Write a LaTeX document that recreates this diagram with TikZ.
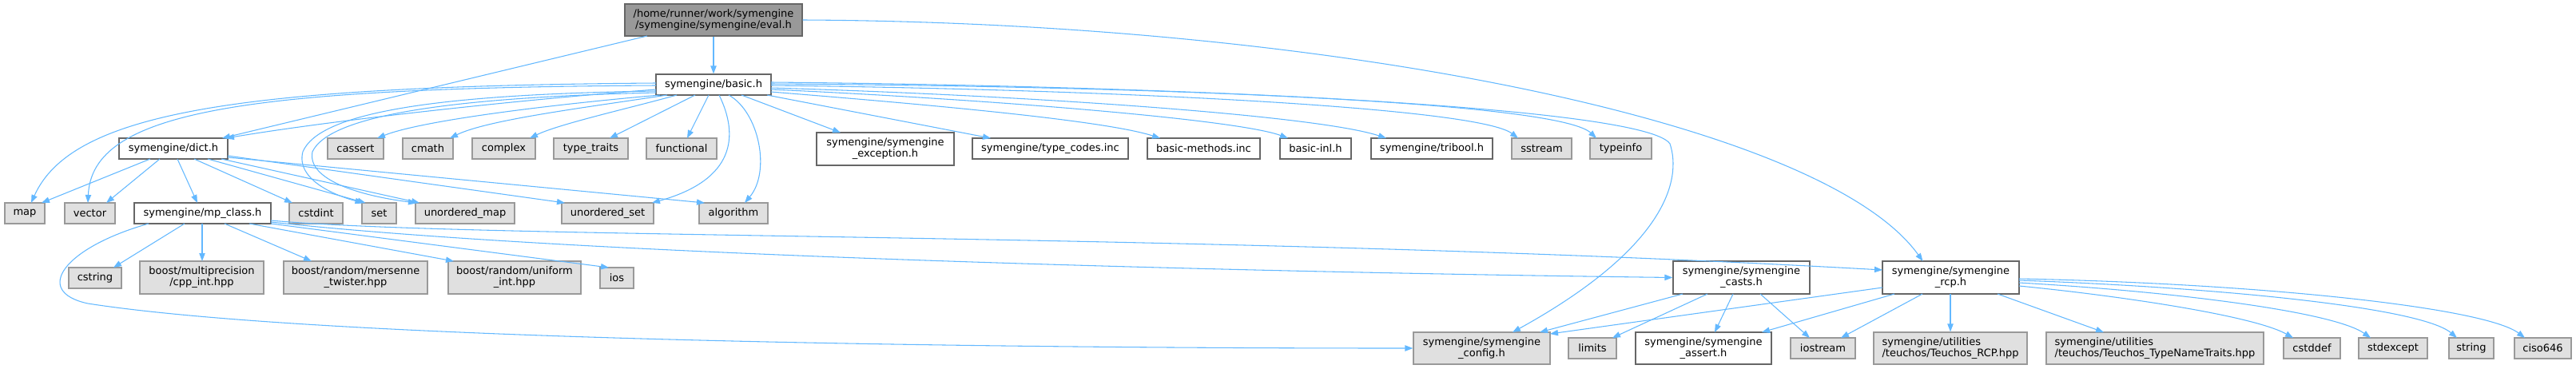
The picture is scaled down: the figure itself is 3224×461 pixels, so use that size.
\documentclass[tikz,border=0pt]{standalone}
\usepackage{fontspec}
\setmainfont{DejaVu Sans}
\usetikzlibrary{arrows.meta,calc}
\definecolor{edgec}{HTML}{63B8FF}
\definecolor{gfill}{HTML}{E0E0E0}
\definecolor{gline}{HTML}{999999}
\definecolor{wline}{HTML}{666666}
\definecolor{efill}{HTML}{999999}
\begin{document}
\begin{tikzpicture}[x=0.75pt,y=-0.75pt,
  base/.style={draw, rectangle, inner sep=0pt, text=black, line width=0.9pt,
    font=\fontsize{9.75pt}{10.6pt}\selectfont, align=center, minimum height=26*0.75pt},
  wbox/.style={base, fill=white, draw=wline},
  gbox/.style={base, fill=gfill, draw=gline},
  ebox/.style={base, fill=efill, draw=wline},
  bw/.style={minimum width=#1*0.75pt},
  tall/.style={minimum height=41*0.75pt},
  edge/.style={draw=edgec, line width=0.8pt, -{Triangle[length=7.5pt,width=5.5pt]}}
]
\useasboundingbox (0,0) rectangle (3224,461);
% nodes
\node[ebox,bw=222,minimum height=40*0.75pt] (eval) at (893,25) {/home/runner/work/symengine\\/symengine/symengine/eval.h};
\node[wbox,bw=144] (basic) at (893,106) {symengine/basic.h};
\node[wbox,bw=136] (dict) at (217,186) {symengine/dict.h};
\node[gbox,bw=70] (cassert) at (445,186) {cassert};
\node[gbox,bw=63] (cmath) at (535.5,186) {cmath};
\node[gbox,bw=79] (complex) at (630.5,186) {complex};
\node[gbox,bw=93] (typetraits) at (739.5,186) {type\_traits};
\node[gbox,bw=88] (functional) at (853,186) {functional};
\node[wbox,bw=172,tall] (exception) at (1108,186.5) {symengine/symengine\\\_exception.h};
\node[wbox,bw=195] (typecodes) at (1314.5,186) {symengine/type\_codes.inc};
\node[wbox,bw=141] (basicmethods) at (1506.5,186) {basic-methods.inc};
\node[wbox,bw=89] (basicinl) at (1646.5,186) {basic-inl.h};
\node[wbox,bw=152] (tribool) at (1792,186) {symengine/tribool.h};
\node[gbox,bw=75] (sstream) at (1929.5,186) {sstream};
\node[gbox,bw=77] (typeinfo) at (2028.5,186) {typeinfo};
\node[gbox,bw=50] (map) at (31,267) {map};
\node[gbox,bw=63] (vector) at (112.5,267) {vector};
\node[wbox,bw=171] (mpclass) at (253.5,267) {symengine/mp\_class.h};
\node[gbox,bw=67] (cstdint) at (395.5,267) {cstdint};
\node[gbox,bw=43] (set) at (474.5,267) {set};
\node[gbox,bw=124] (umap) at (582,267) {unordered\_map};
\node[gbox,bw=115] (uset) at (760.5,267) {unordered\_set};
\node[gbox,bw=86] (algorithm) at (918,267) {algorithm};
\node[gbox,bw=66] (cstring) at (119,348) {cstring};
\node[gbox,bw=155,tall] (cppint) at (252.5,347.5) {boost/multiprecision\\/cpp\_int.hpp};
\node[gbox,bw=180,tall] (mersenne) at (445,347.5) {boost/random/mersenne\\\_twister.hpp};
\node[gbox,bw=166,tall] (uniformint) at (644,347.5) {boost/random/uniform\\\_int.hpp};
\node[gbox,bw=42] (ios) at (772,348) {ios};
\node[wbox,bw=171,tall] (casts) at (2179.5,347.5) {symengine/symengine\\\_casts.h};
\node[wbox,bw=171,tall] (rcp) at (2441.5,347.5) {symengine/symengine\\\_rcp.h};
\node[gbox,bw=171,minimum height=40*0.75pt] (config) at (1854.5,436) {symengine/symengine\\\_config.h};
\node[gbox,bw=60] (limits) at (1993,436) {limits};
\node[wbox,bw=170,minimum height=40*0.75pt] (assert) at (2132,436) {symengine/symengine\\\_assert.h};
\node[gbox,bw=81] (iostream) at (2281.5,436) {iostream};
\node[gbox,bw=192,minimum height=40*0.75pt,align=left] (trcp) at (2441,436) {symengine/utilities\\/teuchos/Teuchos\_RCP.hpp};
\node[gbox,bw=272,minimum height=40*0.75pt,align=left] (ttnt) at (2697,436) {symengine/utilities\\/teuchos/Teuchos\_TypeNameTraits.hpp};
\node[gbox,bw=71] (cstddef) at (2893.5,436) {cstddef};
\node[gbox,bw=86] (stdexcept) at (2995,436) {stdexcept};
\node[gbox,bw=56] (string) at (3093,436) {string};
\node[gbox,bw=71] (ciso) at (3182.5,436) {ciso646};
% eval edges
\draw[edge] (eval.south) -- (basic.north);
\draw[edge] ($(eval)+(-83,20)$) -- ($(dict)+(61,-13)$);
\draw[edge] (eval.east) .. controls (1650,28) and (2280,150) .. ($(rcp)+(-35,-20.5)$);
% basic edges
\draw[edge] ($(basic)+(-72,6)$) .. controls (650,125) and (420,150) .. ($(dict)+(66,-13)$);
\draw[edge] ($(basic)+(-72,-2)$) .. controls (300,108) and (90,140) .. ($(map)+(8,-13)$);
\draw[edge] ($(basic)+(-72,1)$) .. controls (300,110) and (115,140) .. ($(vector)+(-2.5,-13)$);
\draw[edge] ($(basic)+(-72,8)$) .. controls (550,118) and (400,140) .. (379,190)
  .. controls (370,225) and (420,245) .. ($(set)+(-20,-13)$);
\draw[edge] ($(basic)+(-72,10)$) .. controls (560,122) and (412,145) .. (391,190)
  .. controls (384,225) and (450,245) .. ($(umap)+(-61,-13)$);
\draw[edge] ($(basic)+(7,13)$) .. controls (925,170) and (920,225) .. ($(uset)+(55.5,-13)$);
\draw[edge] ($(basic)+(19,13)$) .. controls (950,140) and (965,215) .. ($(algorithm)+(14,-13)$);
\draw[edge] ($(basic)+(-67,13)$) .. controls (700,130) and (530,150) .. ($(cassert)+(27,-13)$);
\draw[edge] ($(basic)+(-58,13)$) .. controls (730,135) and (610,150) .. ($(cmath)+(27.5,-13)$);
\draw[edge] ($(basic)+(-46,13)$) .. controls (790,135) and (700,155) .. ($(complex)+(32.5,-13)$);
\draw[edge] ($(basic)+(-23,13)$) -- ($(typetraits)+(23.5,-13)$);
\draw[edge] ($(basic)+(-6,13)$) -- ($(functional)+(7,-13)$);
\draw[edge] ($(basic)+(35,13)$) -- ($(exception)+(-56,-20.5)$);
\draw[edge] ($(basic)+(67,13)$) -- ($(typecodes)+(-74.5,-13)$);
\draw[edge] ($(basic)+(72,9)$) .. controls (1150,130) and (1380,150) .. ($(basicmethods)+(-54.5,-13)$);
\draw[edge] ($(basic)+(72,6)$) .. controls (1250,125) and (1550,150) .. ($(basicinl)+(-34.5,-13)$);
\draw[edge] ($(basic)+(72,4)$) .. controls (1300,120) and (1650,145) .. ($(tribool)+(-57,-13)$);
\draw[edge] ($(basic)+(72,1)$) .. controls (1400,112) and (1850,135) .. ($(sstream)+(-29.5,-13)$);
\draw[edge] ($(basic)+(72,-1)$) .. controls (1450,108) and (1950,128) .. ($(typeinfo)+(-30.5,-13)$);
\draw[edge] ($(basic)+(72,-3)$) .. controls (1500,108) and (2060,135) .. (2090,180)
  .. controls (2105,225) and (2085,310) .. ($(config)+(38.5,-20)$);
% dict edges
\draw[edge] ($(dict)+(-29,13)$) -- ($(map)+(21,-13)$);
\draw[edge] ($(dict)+(-17,13)$) -- ($(vector)+(20.5,-13)$);
\draw[edge] ($(dict)+(5,13)$) -- ($(mpclass)+(-6.5,-13)$);
\draw[edge] ($(dict)+(26,13)$) -- ($(cstdint)+(-29.5,-13)$);
\draw[edge] ($(dict)+(43,13)$) -- ($(set)+(-17,-13)$);
\draw[edge] ($(dict)+(60,13)$) -- ($(umap)+(-57,-13)$);
\draw[edge] ($(dict)+(68,9)$) -- ($(uset)+(-53.5,-13)$);
\draw[edge] ($(dict)+(68,11)$) -- ($(algorithm)+(-36,-13)$);
% mp_class edges
\draw[edge] ($(mpclass)+(-22.5,13)$) -- ($(cstring)+(23,-13)$);
\draw[edge] ($(mpclass)+(-0.5,13)$) -- ($(cppint)+(0.5,-20.5)$);
\draw[edge] ($(mpclass)+(27.5,13)$) -- ($(mersenne)+(-55,-20.5)$);
\draw[edge] ($(mpclass)+(58.5,13)$) -- ($(uniformint)+(-76,-20.5)$);
\draw[edge] ($(mpclass)+(85.5,13)$) -- ($(ios)+(-10,-13)$);
\draw[edge] ($(mpclass)+(-67.5,13)$) .. controls (80,310) and (40,365) .. (110,380)
  .. controls (400,425) and (1200,436) .. (config.west);
\draw[edge] ($(mpclass)+(85.5,11)$) .. controls (700,318) and (1500,340) .. (casts.west);
\draw[edge] ($(mpclass)+(85.5,9)$) .. controls (600,300) and (1500,290) .. ($(rcp)+(-85.5,-9.5)$);
% casts edges
\draw[edge] ($(casts)+(-73.5,20.5)$) -- ($(config)+(72.5,-20)$);
\draw[edge] ($(casts)+(-42.5,20.5)$) -- ($(limits)+(25,-13)$);
\draw[edge] ($(casts)+(-10.5,20.5)$) -- ($(assert)+(14,-20)$);
\draw[edge] ($(casts)+(23.5,20.5)$) -- ($(iostream)+(-16.5,-13)$);
% rcp edges
\draw[edge] ($(rcp)+(-85.5,12.5)$) -- ($(config)+(85.5,-18)$);
\draw[edge] ($(rcp)+(-70.5,20.5)$) -- ($(assert)+(73,-20)$);
\draw[edge] ($(rcp)+(-35.5,20.5)$) -- ($(iostream)+(22.5,-13)$);
\draw[edge] ($(rcp)+(-0.5,20.5)$) -- (trcp.north);
\draw[edge] ($(rcp)+(58.5,20.5)$) -- ($(ttnt)+(-64,-20)$);
\draw[edge] ($(rcp)+(85.5,10.5)$) .. controls (2650,370) and (2820,395) .. ($(cstddef)+(-23.5,-13)$);
\draw[edge] ($(rcp)+(85.5,6.5)$) .. controls (2720,365) and (2920,390) .. ($(stdexcept)+(-28,-13)$);
\draw[edge] ($(rcp)+(85.5,3.5)$) .. controls (2780,360) and (3030,385) .. ($(string)+(-18,-13)$);
\draw[edge] ($(rcp)+(85.5,1.5)$) .. controls (2830,355) and (3110,385) .. ($(ciso)+(-22.5,-13)$);
\end{tikzpicture}
\end{document}
